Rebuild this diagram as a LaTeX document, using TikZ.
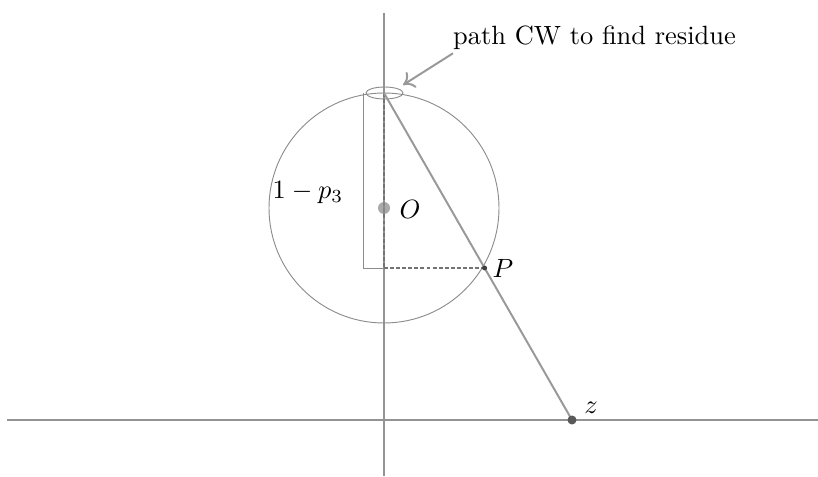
\documentclass[tikz,border=0pt]{standalone}
\usetikzlibrary{arrows.meta}
\begin{document}
\begin{tikzpicture}[x=0.3788pt,y=-0.3788pt,
  axis/.style={draw=gray!85, line width=0.75pt},
  thin/.style={draw=gray!90, line width=0.35pt},
  proj/.style={draw=gray!80, line width=0.75pt},
  dashline/.style={draw=black!55, dash pattern=on 1.5pt off 0.8pt, line width=0.75pt},
  lbl/.style={inner sep=1pt}]
\useasboundingbox (0,0) rectangle (818,477);
% axes
\coordinate (xl) at (7,420);
\coordinate (xr) at (818,420);
\coordinate (yt) at (384,13);
\coordinate (yb) at (384,476);
\draw[axis] (xl) -- (xr);
\draw[axis] (yt) -- (yb);
% sphere
\coordinate (O) at (384,208);
\coordinate (N) at (384,93);
\coordinate (z) at (572,420);
\coordinate (P) at (484.6,268);
\coordinate (F) at (384,268);
\coordinate (L1) at (363,93);
\coordinate (L2) at (363,268);
\draw[thin] (O) circle[radius=115];
\draw[thin] (384.5,93) ellipse[x radius=18.5, y radius=6];
% height bracket
\draw[thin] (L1) -- (L2) -- (F);
% dashed
\draw[dashline] (N) -- (F);
\draw[dashline] (F) -- (P);
% projection line
\draw[proj] (N) -- (z);
% dots
\fill[gray!90, opacity=0.75] (O) circle[radius=6];
\fill[black!75] (P) circle[radius=2.5];
\fill[black!65] (z) circle[radius=4.5];
% labels
\node[lbl] (Olbl) at (410,209) {$O$};
\node[lbl] (Plbl) at (503,268) {$P$};
\node[lbl] (zlbl) at (591,408) {$z$};
\node[lbl] (hlbl) at (308,193) {$1-p_3$};
\node[lbl, anchor=base west] (note) at (450,45) {path CW to find residue};
\coordinate (tip) at (403,85);
\draw[draw=gray!80, line width=0.75pt, -{To[length=4pt,width=7pt]}] (note.south west) ++(3,0) -- (tip);
\end{tikzpicture}
\end{document}
